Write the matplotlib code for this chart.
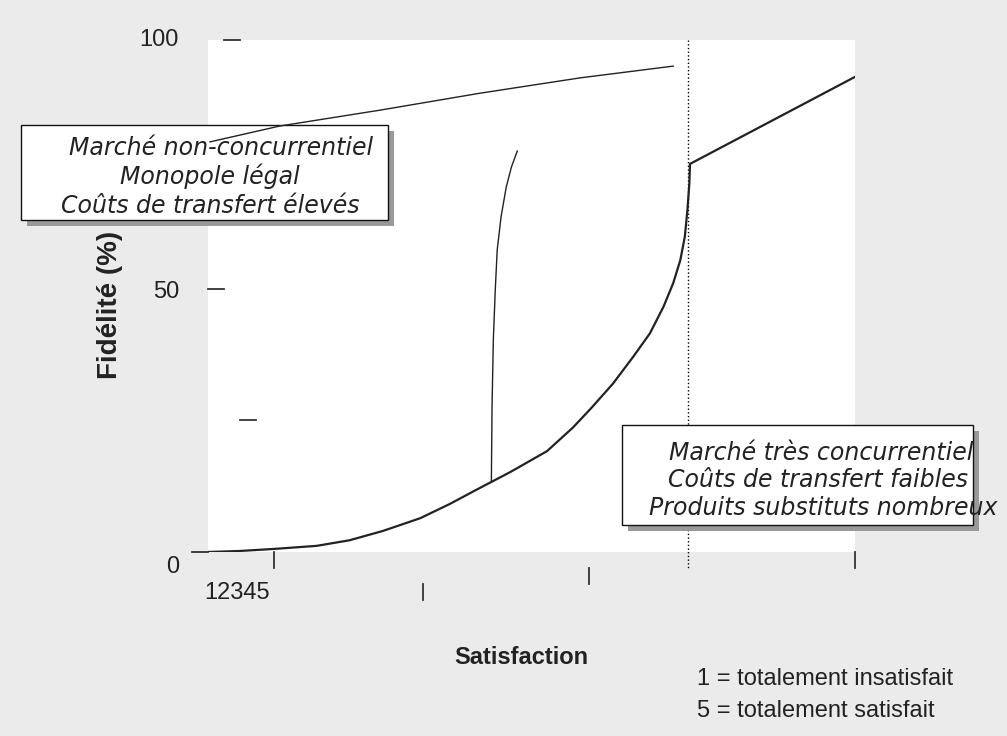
import matplotlib
matplotlib.use("Agg")
import matplotlib.pyplot as plt
import matplotlib.patches as patches

# --- Data ---
# main loyalty curve (competitive market)
main_x = [0, 4.9, 10.2, 16.8, 21.9, 27.0, 32.8, 37.4, 41.4, 46.7, 52.4, 56.4, 59.3,
          62.6, 65.7, 68.3, 70.4, 71.9, 73.0, 73.7, 74.1, 74.4, 74.5, 100]
main_y = [0, 0.2, 0.6, 1.2, 2.3, 4.1, 6.6, 9.4, 12.1, 15.6, 19.7, 24.3, 28.2,
          32.9, 38.1, 42.7, 47.9, 52.5, 57.0, 61.6, 66.8, 72.0, 75.8, 92.8]
# steep middle curve
mid_x = [43.8, 43.9, 44.1, 44.4, 44.7, 45.3, 46.1, 46.9, 47.8]
mid_y = [14.0, 28.4, 41.4, 51.2, 59.0, 65.5, 71.3, 75.2, 78.3]
# upper curve (non-competitive market)
top_x = [0.3, 11.1, 26.6, 42.0, 57.5, 71.9]
top_y = [80.1, 83.2, 86.3, 89.6, 92.6, 94.9]

threshold_x = 74.2

x_ticks = [10.2, 33.2, 58.9, 100]
x_tick_level = [0, 2, 1, 0]
y_ticks = [0, 25.8, 51.4, 100]
y_tick_level = [-1, 2, 0, 1]
y_labels = ["0", "50", "100"]
y_label_pos = [-2.9, 50.8, 100]
x_label_text = "12345"

box1_lines = ["Marché non-concurrentiel", "Monopole légal", "Coûts de transfert élevés"]
box2_lines = ["Marché très concurrentiel", "Coûts de transfert faibles", "Produits substituts nombreux"]
legend_lines = ["1 = totalement insatisfait", "5 = totalement satisfait"]

# --- Figure ---
W, H = 1007, 736
BG = "#ebebeb"
INK = "#222222"
SANS = "Liberation Sans"

fig = plt.figure(figsize=(W / 100, H / 100), dpi=100, facecolor=BG)
ax = fig.add_axes([208 / W, 1 - 552 / H, (855 - 208) / W, (552 - 40) / H])
ax.set_xlim(0, 100)
ax.set_ylim(0, 100)
ax.set_facecolor("white")
for s in ax.spines.values():
    s.set_visible(False)
ax.set_xticks([])
ax.set_yticks([])

# pixel -> figure fraction
def fx(x):
    return x / W

def fy(y):
    return 1 - y / H

TICK_Y = 16 / 5.12   # 16 px in y data units
TICK_X = 16 / 6.47   # 16 px in x data units

for x, lvl in zip(x_ticks, x_tick_level):
    ax.plot([x, x], [-TICK_Y * lvl, -TICK_Y * (lvl + 1)], color="#333333", lw=1.3,
            clip_on=False, zorder=2)
for y, lvl in zip(y_ticks, y_tick_level):
    ax.plot([TICK_X * lvl, TICK_X * (lvl + 1)], [y, y], color="#333333", lw=1.3,
            clip_on=False, zorder=2)

for lab, pos in zip(y_labels, y_label_pos):
    ax.text(-4.5, pos, lab, ha="right", va="center", fontsize=17, family=SANS, color=INK)
ax.text(4.5, -8.0, x_label_text, ha="center", va="center", fontsize=17, family=SANS, color=INK)

# dotted threshold line
ax.plot([threshold_x, threshold_x], [100, -3.5], color="black", lw=1, ls=":",
        clip_on=False, zorder=2)

# curves
ax.plot(main_x, main_y, color=INK, lw=1.6, zorder=5, solid_joinstyle="round")
ax.plot(mid_x, mid_y, color=INK, lw=1.0, zorder=5)
ax.plot(top_x, top_y, color=INK, lw=1.0, zorder=6, clip_on=False)

# annotation boxes (shadow + white box), in figure pixels
def draw_box(x0, y0, x1, y1, lines, centers, baselines):
    shadow = patches.Rectangle((fx(x0 + 6), fy(y1 + 6)), (x1 - x0) / W, (y1 - y0) / H,
                               transform=fig.transFigure, facecolor="#999999",
                               edgecolor="none", clip_on=False, zorder=3)
    box = patches.Rectangle((fx(x0), fy(y1)), (x1 - x0) / W, (y1 - y0) / H,
                            transform=fig.transFigure, facecolor="white",
                            edgecolor="#111111", lw=1, clip_on=False, zorder=3.5)
    ax.add_patch(shadow)
    ax.add_patch(box)
    for line, cx, b in zip(lines, centers, baselines):
        ax.text(fx(cx), fy(b), line, transform=fig.transFigure, ha="center", va="baseline",
                fontsize=17, family="DejaVu Sans", style="italic", color=INK, zorder=4)

draw_box(21, 125, 388, 220, box1_lines, [221, 210, 210], [155, 184, 213])
draw_box(622, 425, 973, 525, box2_lines, [821, 818, 823], [460, 487, 515])

# axis titles
fig.text(fx(110), fy(305), "Fidélité (%)", rotation=90, ha="center", va="center",
         fontsize=20, fontweight="bold", family=SANS, color=INK)
fig.text(fx(521), fy(657), "Satisfaction", ha="center", va="center",
         fontsize=17, fontweight="bold", family=SANS, color=INK)

for line, y in zip(legend_lines, [679, 711]):
    fig.text(fx(697), fy(y), line, ha="left", va="center", fontsize=17, family=SANS, color=INK)

fig.savefig("out.png", dpi=100, facecolor=BG)
